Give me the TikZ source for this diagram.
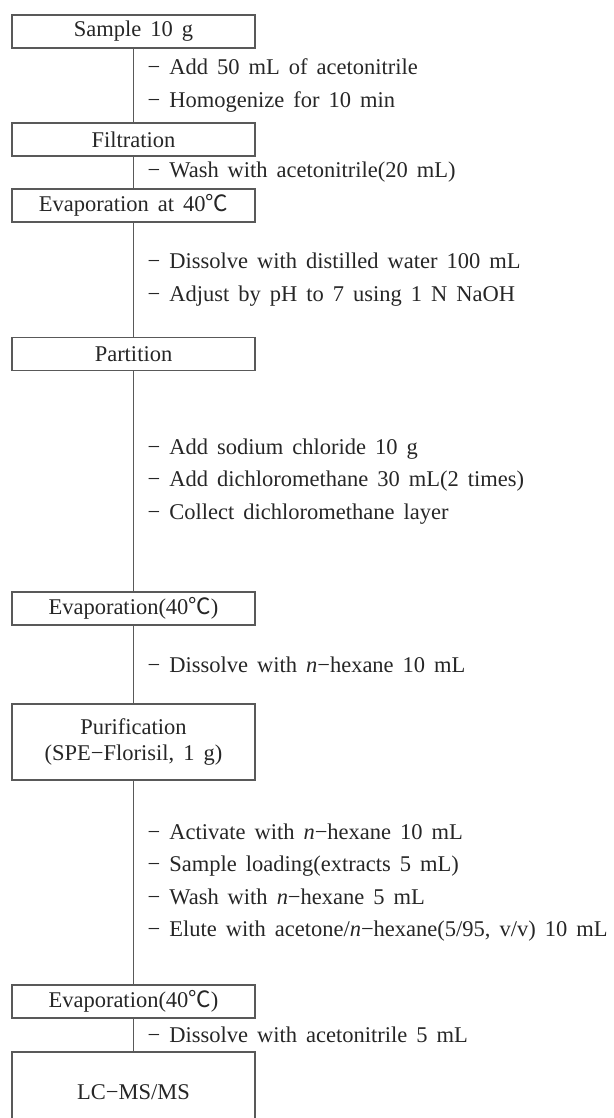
\documentclass[tikz,border=0pt]{standalone}
\usepackage{fontspec}
\setmainfont{Liberation Serif}[WordSpace=1.6]
\newfontfamily\cjk{Noto Sans CJK KR}
\newcommand{\degC}{{\cjk ℃}}
\newcommand{\nhex}{\textit{n}−hexane}
\usetikzlibrary{positioning}

\begin{document}
\begin{tikzpicture}[x=0.025cm, y=-0.025cm,
    box/.style={draw=black!65, line width=0.9pt, text=black!85,
        minimum width=6.075cm, minimum height=0.825cm, inner sep=0pt,
        align=center, font=\fontsize{16}{17.8}\selectfont},
    note/.style={anchor=west, xshift=0.3375cm, text=black!85, inner sep=0pt,
        align=left, font=\fontsize{16}{23.1}\selectfont},
    link/.style={draw=black!65, line width=0.9pt}]
    \useasboundingbox (0,0) rectangle (613,1118);
    \clip (0,0) rectangle (613,1118);

    % P1
    \node [box] (sample) at (133.5,31.5) {Sample 10 g};
    \node [box] (filt) at (133.5,139.5) {Filtration};
    \node [box] (evapA) at (133.5,205.5) {Evaporation at 40\degC};
    \node [box] (part) at (133.5,354) {Partition};
    \node [box] (evapB) at (133.5,608.5) {Evaporation(40\degC)};
    \node [box, minimum height=1.9cm] (puri) at (133.5,742)
        {Purification\\(SPE−Florisil, 1 g)};
    \node [box] (evapC) at (133.5,1001.5) {Evaporation(40\degC)};
    \node [box, minimum height=2cm] (lcms) at (133.5,1092) {LC−MS/MS};

    % P2
    \draw [link] (sample) -- (filt) node [midway, note]
        {− Add 50 mL of acetonitrile\\− Homogenize for 10 min};
    \draw [link] (filt) -- (evapA) node [midway, note]
        {− Wash with acetonitrile(20 mL)};
    \draw [link] (evapA) -- (part) node [midway, note]
        {− Dissolve with distilled water 100 mL\\− Adjust by pH to 7 using 1 N NaOH};
    \draw [link] (part) -- (evapB) node [midway, note]
        {− Add sodium chloride 10 g\\− Add dichloromethane 30 mL(2 times)\\− Collect dichloromethane layer};
    \draw [link] (evapB) -- (puri) node [midway, note]
        {− Dissolve with \nhex{} 10 mL};
    \draw [link] (puri) -- (evapC) node [midway, note]
        {− Activate with \nhex{} 10 mL\\− Sample loading(extracts 5 mL)\\− Wash with \nhex{} 5 mL\\− Elute with acetone/\nhex(5/95, v/v) 10 mL};
    \draw [link] (evapC) -- (lcms) node [midway, note]
        {− Dissolve with acetonitrile 5 mL};

\end{tikzpicture}
\end{document}
